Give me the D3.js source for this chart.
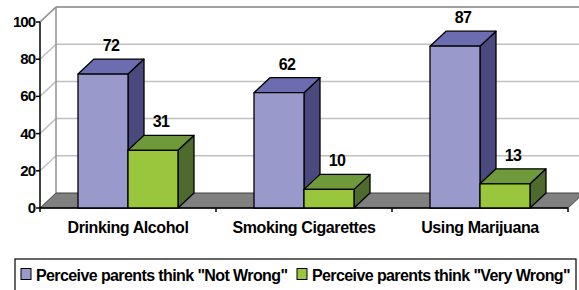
<!DOCTYPE html>
<meta charset="utf-8">
<style>
    body{ margin:0; background:#fff; }
    text{ font-family:"Liberation Sans", Arial, sans-serif; font-weight:bold; fill:#000; }
    .tick-label{ font-size:15px; letter-spacing:-1px; }
    .cat-label{ font-size:16px; letter-spacing:-0.4px; }
    .val-label{ font-size:16px; letter-spacing:-0.6px; }
    .leg-label{ font-size:16px; letter-spacing:-0.6px; }
</style>
<body>
<svg id="chart" width="579" height="290"></svg>
<script src="https://d3js.org/d3.v7.min.js"></script>
<script>
// data
var categories = ["Drinking Alcohol", "Smoking Cigarettes", "Using Marijuana"];
var notWrong = [72, 62, 87];
var veryWrong = [31, 10, 13];
var seriesNames = ['Perceive parents think "Not Wrong"', 'Perceive parents think "Very Wrong"'];
var yTicks = [0, 20, 40, 60, 80, 100];

var colors = [
    {front:"#9999cc", top:"#6c6cb0", side:"#4a4a7e"},
    {front:"#99c63c", top:"#6e9a3c", side:"#4e6a2c"}
];

var svg = d3.select("#chart");
var left = 40, right = 568, base = 208, topY = 22;
var dx = 16, dy = -15; // depth offset

var x = d3.scaleBand().domain(categories).range([left, right]);
var xs = d3.scaleBand().domain([0, 1]).range([0, x.bandwidth()]).paddingOuter(0.76);
var y = d3.scaleLinear().domain([0, 100]).range([base, topY]);

// back wall gridlines + left wall diagonals
yTicks.forEach(function(t){
    if (t == 0) return;
    svg.append("line")
        .attr("x1", left + dx).attr("x2", 579)
        .attr("y1", y(t) + dy).attr("y2", y(t) + dy)
        .attr("stroke", "#c0c0c0").attr("stroke-width", 1.5);
    svg.append("line")
        .attr("x1", left).attr("x2", left + dx)
        .attr("y1", y(t)).attr("y2", y(t) + dy)
        .attr("stroke", "#c0c0c0").attr("stroke-width", 1.5);
});
svg.append("line")
    .attr("x1", left + dx).attr("x2", left + dx)
    .attr("y1", y(100) + dy).attr("y2", base + dy)
    .attr("stroke", "#909090").attr("stroke-width", 1.5);
svg.append("line")
    .attr("x1", left + dx).attr("x2", 579)
    .attr("y1", y(100) + dy).attr("y2", y(100) + dy)
    .attr("stroke", "#909090").attr("stroke-width", 1.5);
svg.append("line")
    .attr("x1", left).attr("x2", left + dx)
    .attr("y1", y(100)).attr("y2", y(100) + dy)
    .attr("stroke", "#909090").attr("stroke-width", 1.5);

// floor
svg.append("polygon")
    .attr("points", [[left, base], [left + dx, base + dy], [right + dx, base + dy], [right, base]].join(" "))
    .attr("fill", "#808080").attr("stroke", "#404040").attr("stroke-width", 1);

// axes
svg.append("line").attr("x1", left).attr("x2", left).attr("y1", y(100)).attr("y2", base)
    .attr("stroke", "#000").attr("stroke-width", 1.5);
svg.append("line").attr("x1", left).attr("x2", right).attr("y1", base).attr("y2", base)
    .attr("stroke", "#000").attr("stroke-width", 1.5);
yTicks.forEach(function(t){
    svg.append("line").attr("x1", left - 4).attr("x2", left).attr("y1", y(t)).attr("y2", y(t))
        .attr("stroke", "#000").attr("stroke-width", 1.5);
    svg.append("text").attr("class", "tick-label")
        .attr("x", left - 5).attr("y", y(t) + 5)
        .attr("text-anchor", "end").text(t);
});
var bounds = [left].concat(categories.map(function(c){ return x(c) + x.bandwidth(); }));
bounds.forEach(function(b){
    svg.append("line").attr("x1", b).attr("x2", b).attr("y1", base).attr("y2", base + 4)
        .attr("stroke", "#000").attr("stroke-width", 1.5);
});
categories.forEach(function(c){
    svg.append("text").attr("class", "cat-label")
        .attr("x", x(c) + x.bandwidth() / 2).attr("y", base + 25)
        .attr("text-anchor", "middle").text(c);
});

// 3d bars
function bar3d(x0, w, v, col){
    var yv = y(v);
    var g = svg.append("g").attr("stroke", "#000").attr("stroke-width", 1.3).attr("stroke-linejoin", "round");
    g.append("polygon")
        .attr("points", [[x0 + w, yv], [x0 + w + dx, yv + dy], [x0 + w + dx, base + dy], [x0 + w, base]].join(" "))
        .attr("fill", col.side);
    g.append("polygon")
        .attr("points", [[x0, yv], [x0 + dx, yv + dy], [x0 + w + dx, yv + dy], [x0 + w, yv]].join(" "))
        .attr("fill", col.top);
    g.append("rect")
        .attr("x", x0).attr("y", yv).attr("width", w).attr("height", base - yv)
        .attr("fill", col.front);
    svg.append("text").attr("class", "val-label")
        .attr("x", x0 + w / 2 + dx / 2).attr("y", yv + dy - 8)
        .attr("text-anchor", "middle").text(v);
}

categories.forEach(function(c, i){
    [notWrong[i], veryWrong[i]].forEach(function(v, s){
        bar3d(x(c) + xs(s), xs.bandwidth(), v, colors[s]);
    });
});

// legend
var leg = svg.append("g");
leg.append("rect").attr("x", 15).attr("y", 259).attr("width", 561).attr("height", 40)
    .attr("fill", "#fff").attr("stroke", "#000").attr("stroke-width", 1.2);
var legX = [21, 297];
seriesNames.forEach(function(n, i){
    leg.append("rect").attr("x", legX[i]).attr("y", 268.5).attr("width", 10).attr("height", 11)
        .attr("fill", colors[i].front).attr("stroke", "#000").attr("stroke-width", 1);
    leg.append("text").attr("class", "leg-label")
        .attr("x", legX[i] + 15).attr("y", 281).text(n);
});
</script>
</body>
